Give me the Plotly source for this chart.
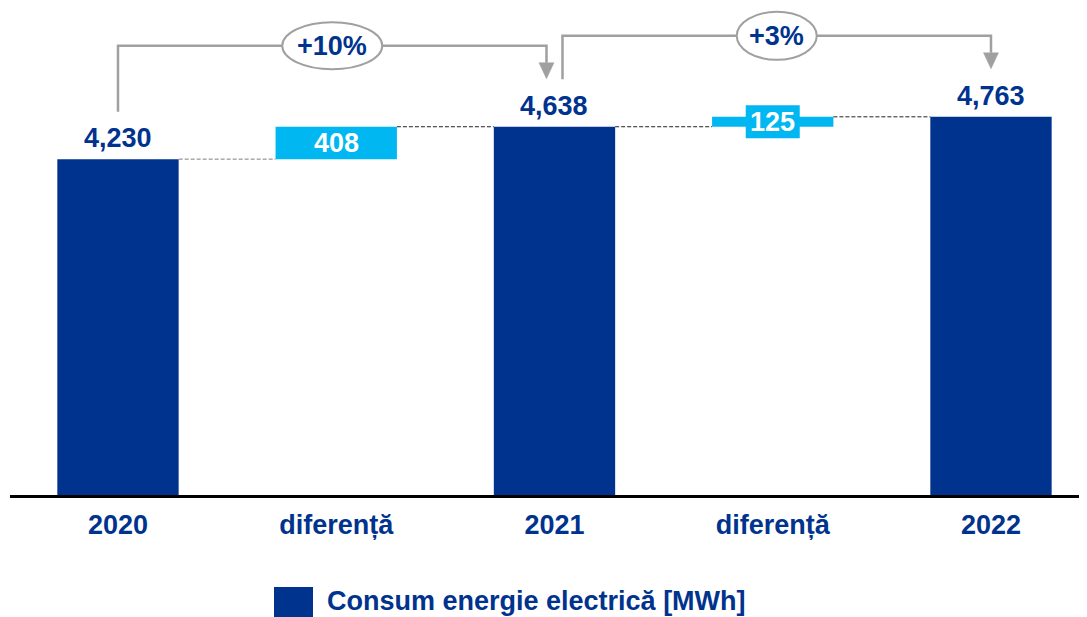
import plotly.graph_objects as go

# ---- data ----
categories = ["2020", "diferență", "2021", "diferență", "2022"]
totals = [4230, 4638, 4763]
diffs = [408, 125]
pct_labels = ["+10%", "+3%"]
series_name = "Consum energie electrică [MWh]"

# ---- style ----
NAVY = "#00338D"
LIGHT = "#00B7F1"
GREY = "#A0A0A0"
FONT = "Liberation Sans, Arial, sans-serif"
FS = 27

OFF = 8  # page body margin
W, H = 1087, 617
ML, MR, MT = 2, 8, 0
plot_w = W - ML - MR          # 1077 -> page x 10..1087
plot_h = 495 - OFF - MT       # axis at page y 495
MB = H - MT - plot_h
Y_MAX = plot_h / 0.0794
XR = [-0.4948, -0.4948 + plot_w / 218.25]
upp_y = Y_MAX / plot_h
upp_x = (XR[1] - XR[0]) / plot_w
BW = 0.556

tot_x = [0, 2, 4]
dif_x = [1, 3]
dif_base = totals[:2]


def page_to_paper_y(py):
    return (plot_h - (py - OFF - MT)) / plot_h


def page_to_paper_x(px):
    return (px - OFF - ML) / plot_w


fig = go.Figure()
fig.add_trace(go.Bar(x=tot_x, y=totals, width=BW, marker_color=NAVY,
                     marker_line_width=0, name=series_name, showlegend=False,
                     hoverinfo="skip"))
fig.add_trace(go.Bar(x=dif_x, y=diffs, base=dif_base, width=BW, marker_color=LIGHT,
                     marker_line_width=0, name="diferență", showlegend=False,
                     hoverinfo="skip"))

shapes = []
annotations = []

# value labels above totals
for x, v in zip(tot_x, totals):
    annotations.append(dict(x=x, y=v, xref="x", yref="y", text=f"{v:,}",
                            showarrow=False, yshift=21, yanchor="middle",
                            font=dict(family=FONT, size=FS, color=NAVY, weight="bold")))

# diff labels
for i, (x, d) in enumerate(zip(dif_x, diffs)):
    cy = dif_base[i] + d / 2
    if d / upp_y < 30:
        hw = 27 * upp_x
        box_h = 33 * upp_y
        shapes.append(dict(type="rect", xref="x", yref="y", x0=x - hw, x1=x + hw,
                           y0=cy - box_h / 2, y1=cy + box_h / 2,
                           fillcolor=LIGHT, line=dict(width=0), layer="above"))
    annotations.append(dict(x=x, y=cy, xref="x", yref="y", text=f"{d:,}",
                            showarrow=False, yanchor="middle",
                            font=dict(family=FONT, size=FS, color="white", weight="bold")))

# dashed connectors
for i in range(len(diffs)):
    shapes.append(dict(type="line", xref="x", yref="y",
                       x0=tot_x[i] + BW / 2, x1=dif_x[i] - BW / 2,
                       y0=totals[i], y1=totals[i],
                       line=dict(color="#7F7F7F" if i == 0 else "#222222",
                                 width=1, dash="4px,2px")))
    shapes.append(dict(type="line", xref="x", yref="y",
                       x0=dif_x[i] + BW / 2, x1=tot_x[i + 1] - BW / 2,
                       y0=totals[i + 1], y1=totals[i + 1],
                       line=dict(color="#222222", width=1, dash="4px,2px")))

# growth arrows
ell_rx = [50, 40]
ell_ry = [23.5, 24]
for i in range(len(totals) - 1):
    sx = tot_x[i] + (8 * upp_x if i > 0 else 0)
    ex = tot_x[i + 1] - (8 * upp_x if i + 1 < len(totals) - 1 else 0)
    sy = totals[i] + 47.5 * upp_y
    level = max(totals[i], totals[i + 1]) + 81 * upp_y
    tip = totals[i + 1] + 48 * upp_y
    head_base = tip + 16 * upp_y
    shapes.append(dict(type="path", xref="x", yref="y",
                       path=f"M {sx},{sy} L {sx},{level} L {ex},{level} L {ex},{head_base}",
                       line=dict(color=GREY, width=2.5), layer="above"))
    hw = 7.5 * upp_x
    shapes.append(dict(type="path", xref="x", yref="y",
                       path=f"M {ex - hw},{head_base} L {ex + hw},{head_base} L {ex},{tip} Z",
                       fillcolor=GREY, line=dict(color=GREY, width=0.5), layer="above"))
    mx = (sx + ex) / 2
    shapes.append(dict(type="circle", xref="x", yref="y",
                       x0=mx - ell_rx[i] * upp_x, x1=mx + ell_rx[i] * upp_x,
                       y0=level - ell_ry[i] * upp_y, y1=level + ell_ry[i] * upp_y,
                       fillcolor="white", line=dict(color=GREY, width=2), layer="above"))
    annotations.append(dict(x=mx, y=level, xref="x", yref="y", text=pct_labels[i],
                            showarrow=False, yanchor="middle",
                            font=dict(family=FONT, size=FS, color=NAVY, weight="bold")))

# manual legend (square + label)
shapes.append(dict(type="rect", xref="paper", yref="paper",
                   x0=page_to_paper_x(274), x1=page_to_paper_x(313),
                   y0=page_to_paper_y(630), y1=page_to_paper_y(587),
                   fillcolor=NAVY, line=dict(width=0)))
annotations.append(dict(x=page_to_paper_x(325), y=page_to_paper_y(601),
                        xref="paper", yref="paper", text=series_name, showarrow=False,
                        xanchor="left", yanchor="middle",
                        font=dict(family=FONT, size=FS, color=NAVY, weight="bold")))

fig.update_layout(
    width=W, height=H, margin=dict(l=ML, r=MR, t=MT, b=MB, pad=0),
    paper_bgcolor="white", plot_bgcolor="white",
    barmode="overlay", showlegend=False,
    shapes=shapes, annotations=annotations,
    xaxis=dict(range=XR, tickmode="array", tickvals=list(range(len(categories))),
               ticktext=categories, showline=True, linecolor="black", linewidth=2.5,
               ticks="", showgrid=False, zeroline=False, ticklabelstandoff=4,
               tickfont=dict(family=FONT, size=FS, color=NAVY, weight="bold"),
               fixedrange=True),
    yaxis=dict(range=[0, Y_MAX], visible=False, showgrid=False, zeroline=False,
               fixedrange=True),
)

fig.write_html("out.html", config={"displayModeBar": False})
